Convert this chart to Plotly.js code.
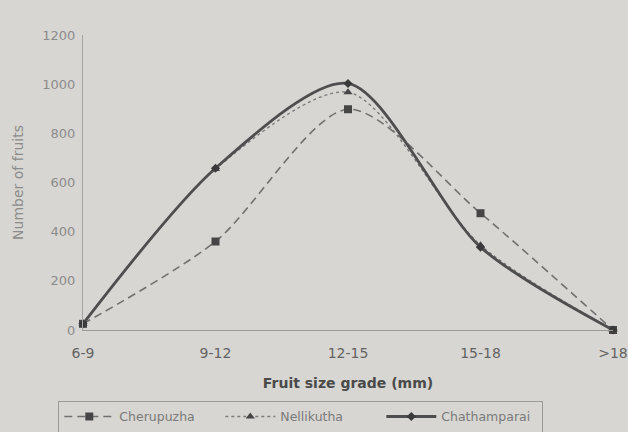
<!DOCTYPE html>
<html>
<head>
<meta charset="utf-8">
<script src="https://cdn.plot.ly/plotly-3.0.1.min.js"></script>
<style>html,body{margin:0;padding:0;background:#d7d6d2;}#chart{width:628px;height:432px;}</style>
</head>
<body>
<div id="chart"></div>
<script>
var categories = ["6-9", "9-12", "12-15", "15-18", ">18"];
var cherupuzha = [25, 360, 898, 475, 0];
var nellikutha = [25, 655, 967, 345, 0];
var chathamparai = [25, 658, 1003, 337, 0];
var yTicks = [0, 200, 400, 600, 800, 1000, 1200];

var xIdx = categories.map(function(_, i){ return i; });

var traces = [
  {x: xIdx, y: cherupuzha, name: "Cherupuzha", type: "scatter", mode: "lines+markers",
   line: {color: "#707070", width: 1.6, dash: "8px,5px", shape: "spline", smoothing: 0.8},
   marker: {symbol: "square", size: 8, color: "#464646"}, cliponaxis: false},
  {x: xIdx, y: nellikutha, name: "Nellikutha", type: "scatter", mode: "lines+markers",
   line: {color: "#7c7c7c", width: 1.4, dash: "3px,3px", shape: "spline", smoothing: 0.8},
   marker: {symbol: "triangle-up", size: 8, color: "#464646"}, cliponaxis: false},
  {x: xIdx, y: chathamparai, name: "Chathamparai", type: "scatter", mode: "lines+markers",
   line: {color: "#4e4e4e", width: 2.8, shape: "spline", smoothing: 0.8},
   marker: {symbol: "diamond", size: 7, color: "#3a3a3a"}, cliponaxis: false}
];

var layout = {
  width: 628, height: 432,
  paper_bgcolor: "#d7d6d2", plot_bgcolor: "#d7d6d2",
  margin: {l: 83, r: 15, t: 35, b: 102},
  font: {family: "DejaVu Sans, sans-serif", color: "#777", size: 14},
  showlegend: true,
  legend: {orientation: "h", xref: "container", yref: "container",
    x: 0.479, xanchor: "center", y: 0.072, yanchor: "top",
    bordercolor: "#9a9a9a", borderwidth: 1, bgcolor: "rgba(0,0,0,0)",
    font: {size: 12.5, color: "#7a7a7a"}, traceorder: "normal", itemwidth: 50,
    entrywidth: 96, tracegroupgap: 0},
  xaxis: {
    tickmode: "array", tickvals: xIdx, ticktext: categories,
    range: [0, 4], showgrid: false, zeroline: false, automargin: false,
    showline: true, linecolor: "#9a9a9a", linewidth: 1,
    ticks: "outside", ticklen: 10, tickcolor: "rgba(0,0,0,0)",
    tickfont: {size: 14, color: "#636363"},
    title: {text: "<b>Fruit size grade (mm)</b>", font: {size: 14, color: "#4a4a4a"}, standoff: 18}
  },
  yaxis: {
    range: [0, 1200], tickmode: "array", tickvals: yTicks,
    showgrid: false, zeroline: false, automargin: false,
    showline: true, linecolor: "#a5a5a5", linewidth: 1,
    ticks: "outside", ticklen: 4, tickcolor: "rgba(0,0,0,0)",
    tickfont: {size: 13, color: "#8c8c8c"},
    title: {text: "Number of fruits", font: {size: 14, color: "#8c8c8c"}, standoff: 15}
  }
};

Plotly.newPlot("chart", traces, layout, {displayModeBar: false, staticPlot: true});
</script>
</body>
</html>
